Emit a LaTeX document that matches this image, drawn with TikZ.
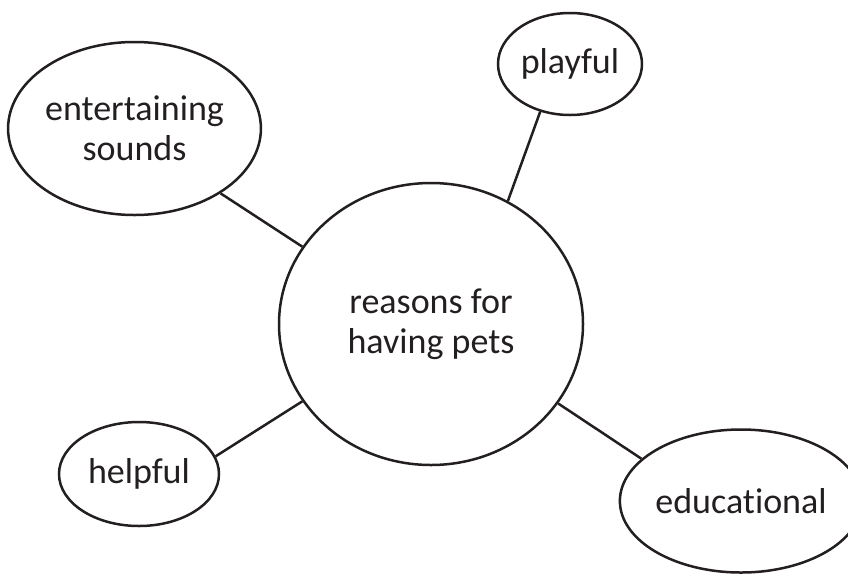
\documentclass[tikz,border=0pt]{standalone}
\usepackage{fontspec}
\setmainfont[Ligatures=NoCommon]{Carlito}
\usepackage{tikz}
\usetikzlibrary{shapes.geometric}

\definecolor{ink}{HTML}{231F20}

\begin{document}
\begin{tikzpicture}[x=1pt, y=-1pt,
	bubble/.style={ellipse, draw=ink, line width=2.5pt, inner sep=0pt, align=center,
		text=ink, font=\fontsize{36}{40}\selectfont},
	link/.style={every edge/.append style={draw=ink, line width=2.5pt}}]
\useasboundingbox (0,0) rectangle (848,574);

\node[bubble, minimum width=304pt, minimum height=282pt] (main) at (431,324) {reasons for\\having pets};
\node[bubble, minimum width=144pt, minimum height=102pt] (play) at (570,64) {playful};
\node[bubble, minimum width=248pt, minimum height=173pt] (ent) at (134.5,128.5) {entertaining\\sounds};
\node[bubble, minimum width=160pt, minimum height=104pt] (help) at (139,474) {helpful};
\node[bubble, minimum width=211pt, minimum height=143pt] (edu) at (741,501) {educational};

\path[link]
(play.238) edge (main.58)
(ent.-37)  edge (main.149)
(help.13)  edge (main.211)
(edu.157)  edge (main.-32)
;
\end{tikzpicture}
\end{document}
